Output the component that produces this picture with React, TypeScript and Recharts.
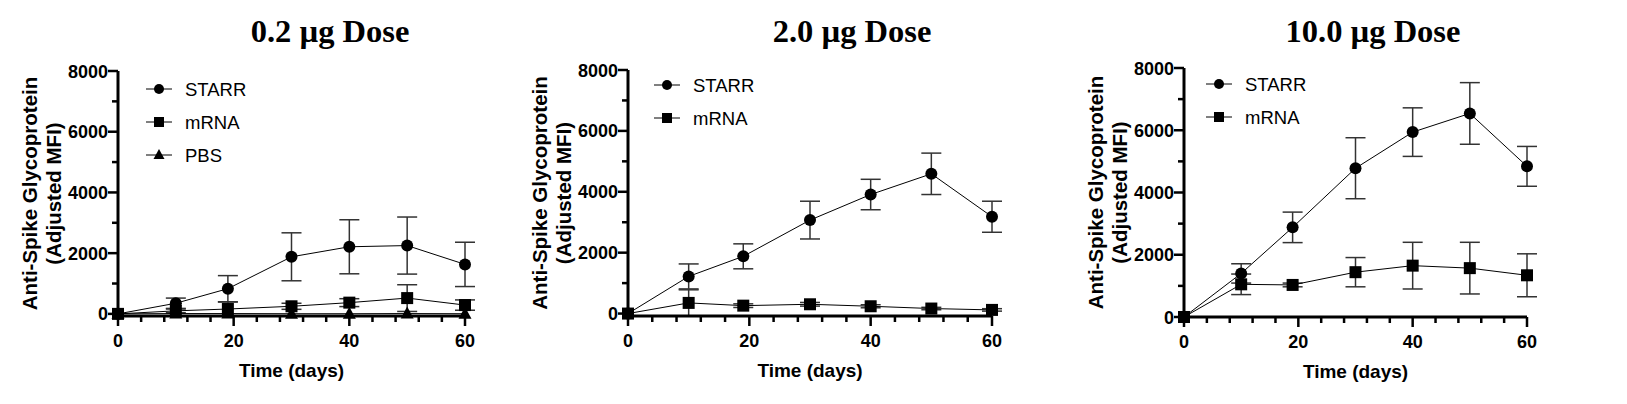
import { LineChart, Line, XAxis, YAxis, ErrorBar, Legend } from 'recharts'

// sampling days
const days = [0, 10, 19, 30, 40, 50, 60]

// 0.2 ug dose
const starrLow = [0, 350, 830, 1880, 2210, 2250, 1630]
const starrLowErr = [0, 170, 430, 790, 890, 940, 730]
const mrnaLow = [0, 100, 160, 250, 370, 520, 290]
const mrnaLowErr = [0, 60, 230, 100, 130, 440, 170]
const pbsLow = [0, 10, 10, 5, 5, 10, 5]
const pbsLowErr = [0, 0, 0, 0, 0, 0, 0]

// 2.0 ug dose
const starrMid = [0, 1220, 1880, 3070, 3910, 4590, 3180]
const starrMidErr = [0, 410, 410, 620, 500, 680, 510]
const mrnaMid = [0, 350, 260, 305, 240, 165, 120]
const mrnaMidErr = [0, 430, 60, 60, 50, 40, 40]

// 10.0 ug dose
const starrHigh = [0, 1400, 2880, 4780, 5940, 6540, 4840]
const starrHighErr = [0, 310, 490, 980, 780, 990, 640]
const mrnaHigh = [0, 1050, 1030, 1440, 1650, 1570, 1340]
const mrnaHighErr = [0, 330, 60, 470, 750, 830, 690]

const xTicks = [0, 4, 8, 12, 16, 20, 24, 28, 32, 36, 40, 44, 48, 52, 56, 60]
const yTicks = [0, 1000, 2000, 3000, 4000, 5000, 6000, 7000, 8000]

const SANS = '"Liberation Sans", Arial, sans-serif'
const SERIF = '"Liberation Serif", "Times New Roman", serif'

const AXIS_W = 60
const AXIS_H = 60

type Shape = 'circle' | 'square' | 'triangle'

type Series = { name: string; shape: Shape; values: number[]; errors: number[] }

function Marker({ cx, cy, shape, size }: { cx: number; cy: number; shape: Shape; size: number }) {
  if (shape === 'circle') return <circle cx={cx} cy={cy} r={size} fill="#000" />
  if (shape === 'square')
    return <rect x={cx - size} y={cy - size} width={size * 2} height={size * 2} fill="#000" />
  return (
    <polygon
      points={`${cx},${cy - size - 1} ${cx - size - 0.5},${cy + size - 1} ${cx + size + 0.5},${cy + size - 1}`}
      fill="#000"
    />
  )
}

const XTick = (props: any) => {
  const { x, y, payload } = props
  const major = payload.value % 20 === 0
  return (
    <g>
      <line x1={x} x2={x} y1={y} y2={y + (major ? 10 : 6)} stroke="#000" strokeWidth={2.5} />
      {major && (
        <text x={x} y={y + 31} textAnchor="middle" fontSize={18} fontWeight="bold" fontFamily={SANS} fill="#000">
          {payload.value}
        </text>
      )}
    </g>
  )
}

const YTick = (props: any) => {
  const { x, y, payload } = props
  const major = payload.value % 2000 === 0
  return (
    <g>
      <line x1={x - (major ? 10 : 6)} x2={x} y1={y} y2={y} stroke="#000" strokeWidth={2.5} />
      {major && (
        <text x={x - 10} y={y + 6.5} textAnchor="end" fontSize={18} fontWeight="bold" fontFamily={SANS} fill="#000">
          {payload.value}
        </text>
      )}
    </g>
  )
}

function LegendBox({ series }: { series: Series[] }) {
  return (
    <svg width={130} height={series.length * 33}>
      {series.map((s, i) => {
        const cy = 16 + i * 33
        return (
          <g key={s.name}>
            <line x1={0} x2={26} y1={cy} y2={cy} stroke="#000" strokeWidth={1} />
            <Marker cx={13} cy={cy} shape={s.shape} size={5} />
            <text x={39} y={cy + 6.5} fontSize={18.5} fontFamily={SANS} fill="#000">
              {s.name}
            </text>
          </g>
        )
      })}
    </svg>
  )
}

type PanelProps = {
  title: string
  titleX: number
  series: Series[]
  left: number
  width: number
  plotLeft: number
  plotRight: number
  plotTop: number
  plotBottom: number
  legendX: number
  legendY: number
}

function Panel(p: PanelProps) {
  const data = days.map((d, i) => {
    const row: Record<string, number> = { day: d }
    p.series.forEach((s) => {
      row[s.name] = s.values[i]
      row[s.name + 'Err'] = s.errors[i]
    })
    return row
  })
  const midY = (p.plotTop + p.plotBottom) / 2
  const axisX = p.plotLeft - p.left
  const xTitle = () => (
    <text
      x={(p.plotLeft + p.plotRight) / 2 - p.left}
      y={p.plotBottom + 61}
      textAnchor="middle"
      fontSize={19}
      fontWeight="bold"
      fontFamily={SANS}
      fill="#000"
    >
      Time (days)
    </text>
  )
  const yTitle = () => (
    <g fontSize={20.5} fontWeight="bold" fontFamily={SANS} fill="#000">
      <text
        x={axisX - 89}
        y={midY}
        textAnchor="middle"
        dominantBaseline="central"
        transform={`rotate(-90, ${axisX - 89}, ${midY})`}
      >
        Anti-Spike Glycoprotein
      </text>
      <text
        x={axisX - 65}
        y={midY}
        textAnchor="middle"
        dominantBaseline="central"
        transform={`rotate(-90, ${axisX - 65}, ${midY})`}
      >
        (Adjusted MFI)
      </text>
    </g>
  )
  return (
    <>
      <div
        style={{
          position: 'absolute',
          left: p.titleX - 200,
          top: 15,
          width: 400,
          textAlign: 'center',
          fontFamily: SERIF,
          fontWeight: 'bold',
          fontSize: 32.5,
          lineHeight: '32px',
          color: '#000',
        }}
      >
        {p.title}
      </div>
      <div style={{ position: 'absolute', left: p.left, top: 0 }}>
        <LineChart
          width={p.width}
          height={404}
          data={data}
          margin={{
            top: p.plotTop,
            left: p.plotLeft - p.left - AXIS_W,
            right: p.left + p.width - p.plotRight,
            bottom: 404 - p.plotBottom - AXIS_H,
          }}
        >
          <XAxis
            dataKey="day"
            type="number"
            domain={[0, 60]}
            ticks={xTicks}
            interval={0}
            height={AXIS_H}
            tickSize={0}
            tickMargin={0}
            tickLine={false}
            tick={<XTick />}
            axisLine={{ stroke: '#000', strokeWidth: 3 }}
            label={xTitle}
          />
          <YAxis
            type="number"
            domain={[0, 8000]}
            ticks={yTicks}
            interval={0}
            width={AXIS_W}
            tickSize={0}
            tickMargin={0}
            tickLine={false}
            tick={<YTick />}
            axisLine={{ stroke: '#000', strokeWidth: 3 }}
            label={yTitle}
          />
          <Legend
            layout="vertical"
            align="center"
            verticalAlign="middle"
            wrapperStyle={{ left: p.legendX - 13 - p.left, top: p.legendY - 16, width: 'auto' }}
            content={() => <LegendBox series={p.series} />}
          />
          {p.series.map((s) => (
            <Line
              key={s.name}
              dataKey={s.name}
              stroke="#000"
              strokeWidth={1}
              isAnimationActive={false}
              dot={(d: any) => <Marker key={`${s.name}-${d.index}`} cx={d.cx} cy={d.cy} shape={s.shape} size={6} />}
              activeDot={false}
            >
              <ErrorBar dataKey={s.name + 'Err'} direction="y" width={10} stroke="#333" strokeWidth={1.5} />
            </Line>
          ))}
        </LineChart>
      </div>
    </>
  )
}

export default function App() {
  return (
    <div style={{ position: 'absolute', left: 0, top: 0, width: 1627, height: 404, background: '#fff' }}>
      <Panel
        title="0.2 µg Dose"
        titleX={330}
        left={0}
        width={500}
        plotLeft={118}
        plotRight={465}
        plotTop={71}
        plotBottom={316}
        legendX={159}
        legendY={89}
        series={[
          { name: 'STARR', shape: 'circle', values: starrLow, errors: starrLowErr },
          { name: 'mRNA', shape: 'square', values: mrnaLow, errors: mrnaLowErr },
          { name: 'PBS', shape: 'triangle', values: pbsLow, errors: pbsLowErr },
        ]}
      />
      <Panel
        title="2.0 µg Dose"
        titleX={852}
        left={520}
        width={500}
        plotLeft={628}
        plotRight={992}
        plotTop={70}
        plotBottom={316}
        legendX={667}
        legendY={85}
        series={[
          { name: 'STARR', shape: 'circle', values: starrMid, errors: starrMidErr },
          { name: 'mRNA', shape: 'square', values: mrnaMid, errors: mrnaMidErr },
        ]}
      />
      <Panel
        title="10.0 µg Dose"
        titleX={1373}
        left={1060}
        width={520}
        plotLeft={1184}
        plotRight={1527}
        plotTop={68}
        plotBottom={317}
        legendX={1219}
        legendY={84}
        series={[
          { name: 'STARR', shape: 'circle', values: starrHigh, errors: starrHighErr },
          { name: 'mRNA', shape: 'square', values: mrnaHigh, errors: mrnaHighErr },
        ]}
      />
    </div>
  )
}
